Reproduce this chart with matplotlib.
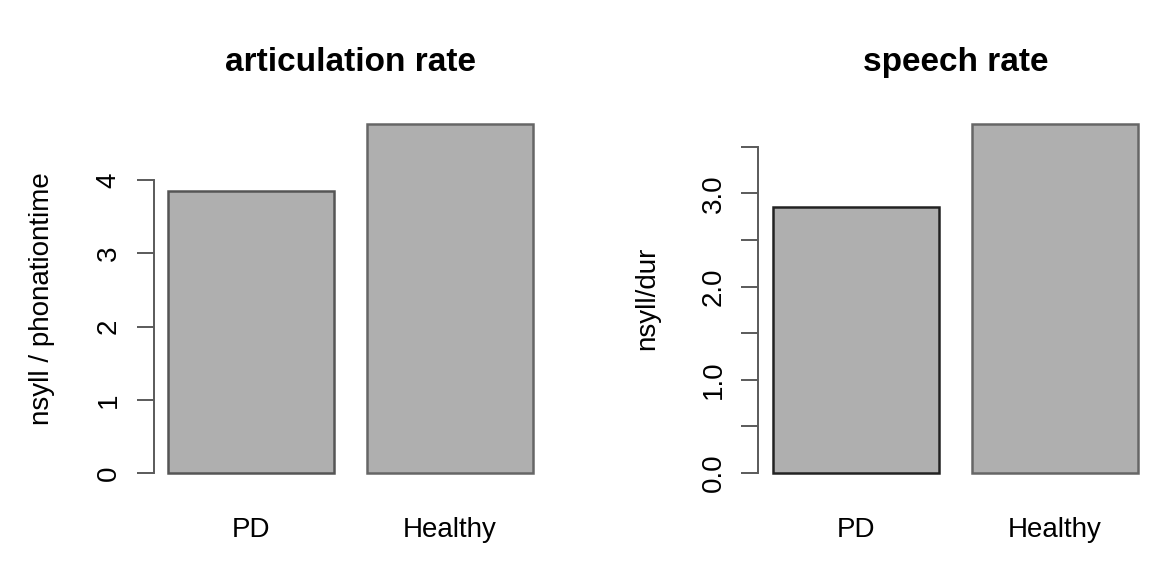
import matplotlib
matplotlib.use("Agg")
import matplotlib.pyplot as plt
import numpy as np

plt.rcParams['font.family'] = ['Liberation Sans', 'DejaVu Sans']

categories = ["PD", "Healthy"]
artic_rate = [3.85, 4.77]
speech_rate = [2.85, 3.745]
titles = ["articulation rate", "speech rate"]
ylabels = ["nsyll / phonationtime", "nsyll/dur"]
artic_ticks = [0, 1, 2, 3, 4]
artic_ticklabels = ["0", "1", "2", "3", "4"]
speech_ticks = [0, 0.5, 1.0, 1.5, 2.0, 2.5, 3.0, 3.5]
speech_ticklabels = ["0.0", "", "1.0", "", "2.0", "", "3.0", ""]

W, H = 1158, 565
fig = plt.figure(figsize=(W / 100, H / 100), dpi=100)
ax_w = 394
ax1 = fig.add_axes([153.5 / W, 78 / H, ax_w / W, 377 / H])
ax2 = fig.add_axes([758.4 / W, 78 / H, ax_w / W, 377 / H])

fill = '#afafaf'
axis_col = '#5a5a5a'
px = 0.72  # points per pixel at 100 dpi
specs = [
    (ax1, artic_rate, artic_ticks, artic_ticklabels, ['#555555', '#666666']),
    (ax2, speech_rate, speech_ticks, speech_ticklabels, ['#222222', '#666666']),
]
for i, (ax, vals, ticks, tlabels, ecs) in enumerate(specs):
    x = np.array([0.7, 1.9])
    ax.bar(x, vals, width=1.0, color=fill, edgecolor=ecs, linewidth=1.8)
    top = max(vals)
    ax.set_xlim(0.2 - 0.088, 2.4 + 0.088)
    ax.set_ylim(-0.04 * top, top * 1.04)
    for s in ['top', 'right', 'bottom']:
        ax.spines[s].set_visible(False)
    ax.spines['left'].set_bounds(ticks[0], ticks[-1])
    ax.spines['left'].set_color(axis_col)
    ax.spines['left'].set_linewidth(1.4)
    ax.set_yticks(ticks)
    ax.set_yticklabels(tlabels, rotation=90, rotation_mode='anchor',
                       ha='center', va='baseline', fontsize=20)
    ax.tick_params(axis='y', length=17 * px, width=1.4, color=axis_col,
                   pad=21 * px)
    ax.set_xticks(x)
    ax.set_xticklabels(categories, fontsize=20, va='baseline')
    ax.tick_params(axis='x', length=0, pad=50 * px)
    ax.set_ylabel(ylabels[i], fontsize=20)
    ax.yaxis.label.set_va('baseline')
    ax.yaxis.set_label_coords(-104 / ax_w, 0.5)
    ax.set_title(titles[i], fontsize=24, fontweight='bold', pad=39 * px)
    ax.patch.set_alpha(0)

fig.savefig("out.png", dpi=100)
